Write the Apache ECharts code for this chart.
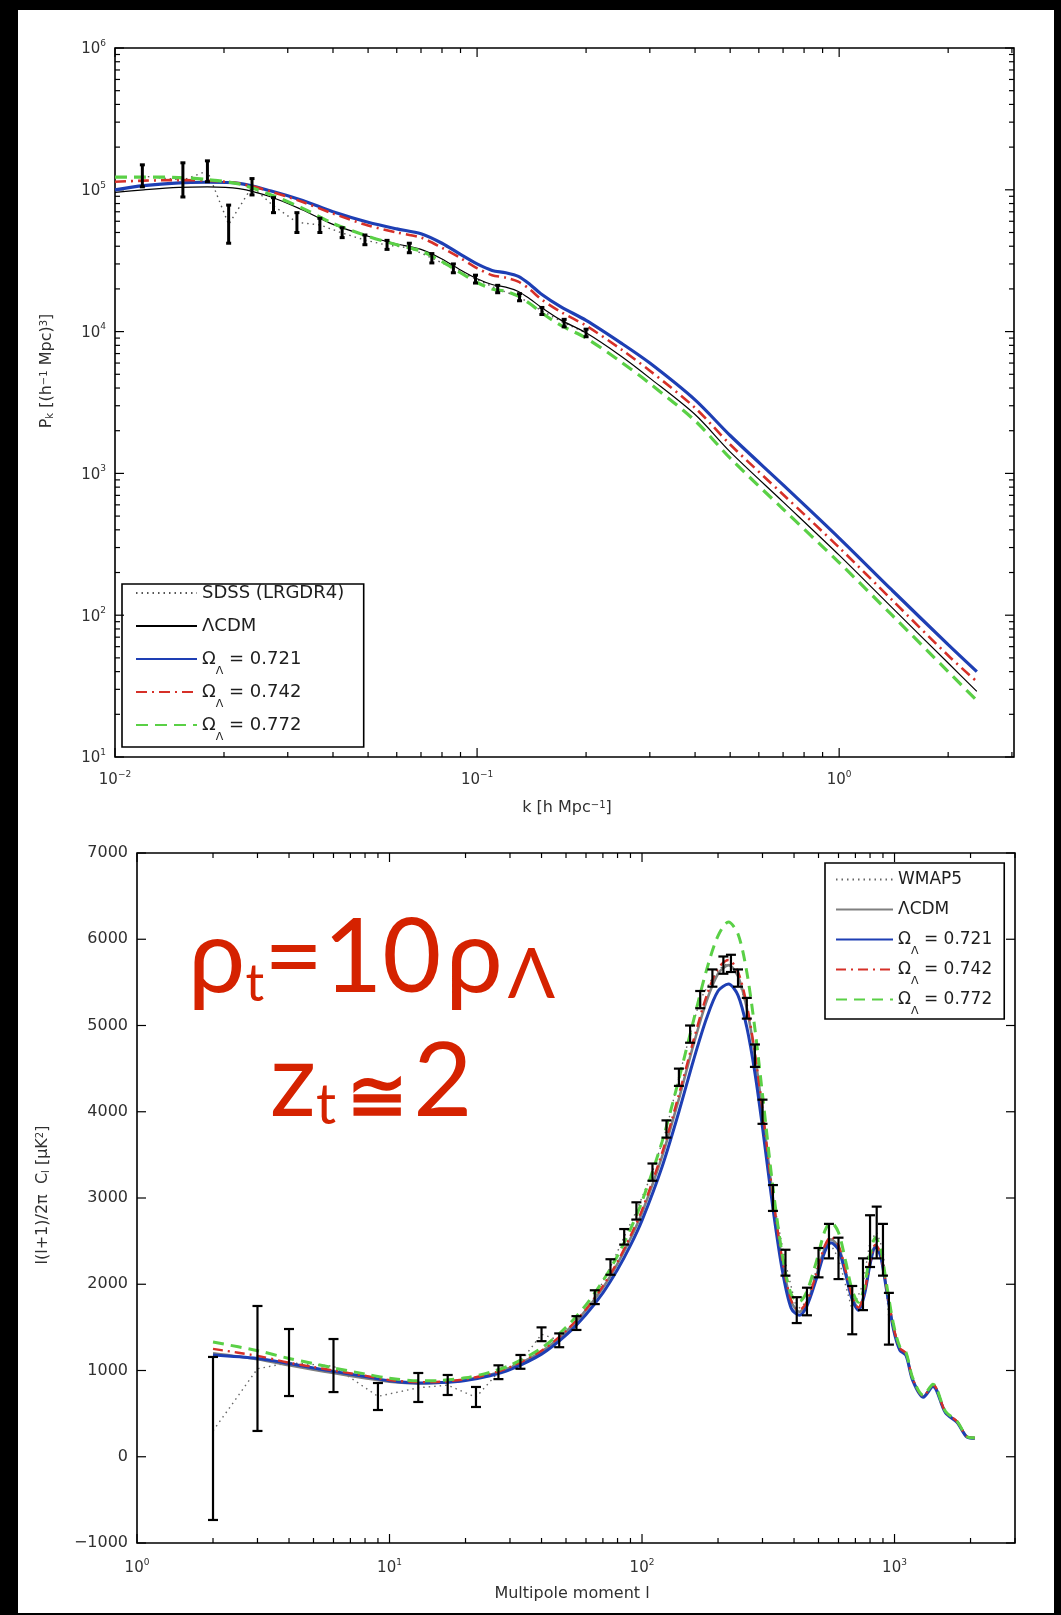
<!DOCTYPE html>
<html><head><meta charset="utf-8">
<script src="https://cdn.jsdelivr.net/npm/echarts@6/dist/echarts.min.js"></script>
<style>html,body{margin:0;padding:0;background:#000;}#c{width:1061px;height:1615px;}</style>
</head><body><div id="c"></div>
<script>
// ---------- top panel: matter power spectrum ----------
const kGrid   = [0.01,0.012,0.015,0.018,0.022,0.027,0.033,0.04,0.05,0.06,0.07,0.08,0.09,0.1,0.11,0.12,0.13,0.14,0.15,0.17,0.2,0.25,0.3,0.4,0.5,0.7,1.0,1.4,2.0,2.4];
const pkLCDM  = [9.6e4,1.0e5,1.04e5,1.05e5,1.02e5,8.9e4,7.2e4,5.7e4,4.7e4,4.15e4,3.8e4,3.25e4,2.72e4,2.36e4,2.15e4,2.06e4,1.92e4,1.7e4,1.49e4,1.21e4,9.8e3,6.7e3,4.7e3,2.6e3,1.42e3,630,265,113,46,29];
const pkO721  = [1.0e5,1.07e5,1.12e5,1.13e5,1.11e5,9.8e4,8.4e4,7.0e4,5.9e4,5.3e4,4.9e4,4.2e4,3.5e4,3.0e4,2.7e4,2.6e4,2.45e4,2.15e4,1.85e4,1.5e4,1.2e4,8.3e3,6.0e3,3.3e3,1.85e3,830,350,150,62,40];
const pkO742  = [1.14e5,1.16e5,1.17e5,1.16e5,1.11e5,9.7e4,8.2e4,6.8e4,5.6e4,5.0e4,4.6e4,3.9e4,3.3e4,2.8e4,2.5e4,2.4e4,2.25e4,1.98e4,1.7e4,1.38e4,1.1e4,7.5e3,5.3e3,2.9e3,1.6e3,710,300,128,52,34];
const pkO772  = [1.23e5,1.23e5,1.22e5,1.18e5,1.1e5,9.2e4,7.4e4,5.8e4,4.7e4,4.1e4,3.7e4,3.12e4,2.6e4,2.22e4,2.0e4,1.92e4,1.78e4,1.57e4,1.37e4,1.11e4,9.0e3,6.1e3,4.3e3,2.35e3,1.28e3,560,235,100,40,25];
const sdssK   = [0.0119,0.0154,0.018,0.0206,0.0239,0.0274,0.0318,0.0368,0.0424,0.049,0.0564,0.065,0.075,0.086,0.099,0.114,0.131,0.151,0.174,0.2];
const sdssP   = [1.25e5,1.17e5,1.36e5,5.7e4,1.05e5,7.7e4,5.9e4,5.65e4,4.96e4,4.42e4,4.07e4,3.9e4,3.3e4,2.8e4,2.35e4,2.0e4,1.75e4,1.4e4,1.15e4,9.8e3];
const sdssLo  = [1.05e5,8.9e4,1.14e5,4.2e4,9.2e4,6.9e4,5.0e4,5.0e4,4.6e4,4.1e4,3.8e4,3.6e4,3.05e4,2.6e4,2.2e4,1.88e4,1.65e4,1.32e4,1.08e4,9.2e3];
const sdssHi  = [1.5e5,1.55e5,1.6e5,7.8e4,1.2e5,8.8e4,6.9e4,6.3e4,5.4e4,4.8e4,4.4e4,4.2e4,3.55e4,3.0e4,2.5e4,2.12e4,1.85e4,1.48e4,1.22e4,1.04e4];
const topXDecades = [-2,-1,0];
const topYDecades = [1,2,3,4,5,6];

// ---------- bottom panel: CMB temperature spectrum ----------
const ellGrid = [2,3,4,5,6,8,10,13,16,20,25,30,40,50,60,70,80,90,100,120,140,160,180,200,220,240,260,280,300,330,360,390,420,450,490,530,560,600,640,680,720,760,800,840,880,930,990,1050,1110,1180,1300,1420,1590,1770,1940,2080];
const clLCDM  = [1200,1130,1060,1010,970,910,870,850,860,890,950,1030,1220,1450,1700,1960,2240,2530,2830,3480,4150,4780,5280,5600,5700,5570,5200,4650,4000,3000,2250,1800,1680,1780,2100,2420,2520,2430,2150,1850,1720,1900,2250,2450,2350,1950,1500,1250,1190,900,700,830,520,405,230,217];
const clO721  = [1180,1140,1080,1030,990,930,880,855,860,885,940,1010,1190,1410,1650,1900,2170,2450,2740,3360,4000,4600,5080,5400,5480,5350,4980,4450,3820,2880,2150,1720,1640,1750,2060,2380,2480,2400,2120,1820,1700,1880,2230,2430,2330,1930,1480,1235,1175,885,690,815,510,398,226,214];
const clO742  = [1250,1170,1090,1040,1000,940,890,865,870,900,960,1040,1230,1460,1710,1980,2260,2560,2860,3520,4200,4830,5340,5660,5760,5620,5240,4680,4020,3020,2270,1810,1700,1800,2120,2450,2550,2450,2160,1860,1730,1910,2260,2460,2360,1960,1510,1260,1200,905,705,835,523,407,231,218];
const clO772  = [1330,1230,1140,1080,1030,960,910,880,885,915,980,1060,1260,1500,1760,2040,2330,2640,2960,3650,4380,5060,5640,6040,6200,6060,5620,4960,4200,3120,2330,1880,1800,1920,2260,2620,2720,2600,2270,1930,1790,1980,2340,2540,2420,2000,1540,1275,1210,915,712,842,528,410,233,219];
const wmapL   = [2,3,4,6,9,13,17,22,27,33,40,47,55,65,75,85,95,110,125,140,155,170,190,210,225,240,260,280,300,330,370,410,450,500,550,600,680,750,800,850,900,950];
const wmapC   = [300,1020,1090,1050,700,800,830,690,980,1100,1420,1350,1550,1850,2200,2550,2850,3300,3800,4400,4900,5300,5550,5700,5720,5550,5200,4650,4000,3000,2250,1700,1800,2250,2500,2300,1700,2000,2500,2600,2400,1600];
const wmapLo  = [-733,299,704,750,542,635,716,577,900,1020,1340,1270,1470,1770,2110,2460,2750,3200,3700,4300,4800,5200,5450,5600,5620,5450,5080,4520,3860,2850,2100,1550,1640,2080,2300,2060,1420,1700,2200,2300,2100,1300];
const wmapHi  = [1157,1748,1481,1365,855,971,948,809,1060,1180,1500,1430,1630,1930,2290,2640,2950,3400,3900,4500,5000,5400,5650,5800,5820,5650,5320,4780,4140,3150,2400,1850,1960,2420,2700,2540,1980,2300,2800,2900,2700,1900];
const botXDecades = [0,1,2,3];
const botYTicks   = [-1000,0,1000,2000,3000,4000,5000,6000,7000];

// ---------- helpers ----------
const FONT = 'DejaVu Sans, Verdana, sans-serif';
const LBL = '#303030';
const C_BLUE = '#1e3fb4', C_RED = '#d63028', C_GREEN = '#5ad046';
const RED_TXT = '#d52200';
const minus = s => String(s).replace('-', '\u2212');

function pairs(xs, ys){ return xs.map((x,i)=>[x, ys[i]]); }
function triples(xs, lo, hi){ return xs.map((x,i)=>[x, lo[i], hi[i]]); }

function decadeTicks(decs, maxV){
  const out = [];
  for (let i = 0; i < decs.length; i++) {
    const base = Math.pow(10, decs[i]);
    out.push([base, 1]);
    for (let m = 2; m <= 9; m++) {
      const v = base * m;
      if (i === decs.length - 1 && v > maxV) break;
      out.push([v, 0]);
    }
  }
  return out;
}

function errBar(capW, lw){
  return function(params, api){
    const x = api.value(0);
    const p1 = api.coord([x, api.value(1)]);
    const p2 = api.coord([x, api.value(2)]);
    const st = {stroke:'#000', lineWidth:lw};
    return {type:'group', children:[
      {type:'line', shape:{x1:p1[0],y1:p1[1],x2:p2[0],y2:p2[1]}, style:st},
      {type:'line', shape:{x1:p1[0]-capW,y1:p1[1],x2:p1[0]+capW,y2:p1[1]}, style:st},
      {type:'line', shape:{x1:p2[0]-capW,y1:p2[1],x2:p2[0]+capW,y2:p2[1]}, style:st}
    ]};
  };
}
function xTickRender(yRef){
  return function(params, api){
    const cs = params.coordSys;
    const px = api.coord([api.value(0), yRef])[0];
    const len = api.value(1) ? 9 : 5;
    const st = {stroke:'#000', lineWidth:1.2};
    return {type:'group', children:[
      {type:'line', shape:{x1:px,y1:cs.y+cs.height,x2:px,y2:cs.y+cs.height-len}, style:st},
      {type:'line', shape:{x1:px,y1:cs.y,x2:px,y2:cs.y+len}, style:st}
    ]};
  };
}
function yTickRender(xRef){
  return function(params, api){
    const cs = params.coordSys;
    const py = api.coord([xRef, api.value(0)])[1];
    const len = api.value(1) ? 9 : 5;
    const st = {stroke:'#000', lineWidth:1.2};
    return {type:'group', children:[
      {type:'line', shape:{x1:cs.x,y1:py,x2:cs.x+len,y2:py}, style:st},
      {type:'line', shape:{x1:cs.x+cs.width,y1:py,x2:cs.x+cs.width-len,y2:py}, style:st}
    ]};
  };
}
function powLabel(v){
  const e = Math.log10(v);
  const r = Math.round(e);
  if (Math.abs(e - r) > 1e-6) return '';
  return '{b|10}{s|' + minus(r) + '}';
}
const richPow = {
  b:{fontFamily:FONT, fontSize:15, color:LBL, lineHeight:18, verticalAlign:'bottom'},
  s:{fontFamily:FONT, fontSize:9, color:LBL, lineHeight:10, verticalAlign:'top'}
};

function legendRich(fs, lh, subPad){
  return {
    t:{fontFamily:FONT, fontSize:fs, color:'#1e1e1e', lineHeight:lh, verticalAlign:'top'},
    u:{fontFamily:FONT, fontSize:Math.round(fs*0.62), color:'#1e1e1e', lineHeight:8, padding:[subPad,0,0,0], verticalAlign:'top'}
  };
}
const topLegendText = {
  t_sdss:'{t|SDSS (LRGDR4)}{u| }', t_lcdm:'{t|\u039bCDM}{u| }',
  t_721:'{t|\u03a9}{u|\u039b}{t| = 0.721}', t_742:'{t|\u03a9}{u|\u039b}{t| = 0.742}', t_772:'{t|\u03a9}{u|\u039b}{t| = 0.772}'
};
const botLegendText = {
  b_wmap:'{t|WMAP5}{u| }', b_lcdm:'{t|\u039bCDM}{u| }',
  b_721:'{t|\u03a9}{u|\u039b}{t| = 0.721}', b_742:'{t|\u03a9}{u|\u039b}{t| = 0.742}', b_772:'{t|\u03a9}{u|\u039b}{t| = 0.772}'
};
const subsup = {
  s:{fontSize:10,fontFamily:FONT,fill:LBL,verticalAlign:'bottom',lineHeight:11},
  p:{fontSize:10,fontFamily:FONT,fill:LBL,verticalAlign:'top',lineHeight:11}
};

const chart = echarts.init(document.getElementById('c'), null, {renderer:'canvas'});

const option = {
  animation:false,
  backgroundColor:'#000',
  grid:[
    {left:115, top:48, width:899, height:709, show:true, borderColor:'#000', borderWidth:1.6, backgroundColor:'#fff', z:1},
    {left:137, top:853, width:878, height:690, show:true, borderColor:'#000', borderWidth:1.6, backgroundColor:'#fff', z:1}
  ],
  xAxis:[
    {type:'log', gridIndex:0, min:0.01, max:3.04, logBase:10, splitLine:{show:false},
     axisLine:{show:false}, axisTick:{show:false},
     axisLabel:{formatter:powLabel, rich:richPow, margin:13}},
    {type:'log', gridIndex:1, min:1, max:3000, logBase:10, splitLine:{show:false},
     axisLine:{show:false}, axisTick:{show:false},
     axisLabel:{formatter:powLabel, rich:richPow, margin:15}}
  ],
  yAxis:[
    {type:'log', gridIndex:0, min:10, max:1e6, logBase:10, splitNumber:5, splitLine:{show:false},
     axisLine:{show:false}, axisTick:{show:false},
     axisLabel:{formatter:powLabel, rich:richPow, margin:9}},
    {type:'value', gridIndex:1, min:-1000, max:7000, interval:1000, splitLine:{show:false},
     axisLine:{show:false}, axisTick:{show:false},
     axisLabel:{formatter:v=>minus(v), fontFamily:FONT, fontSize:16, color:LBL, margin:9}}
  ],
  legend:[
    {left:122, top:584, orient:'vertical', itemWidth:61, itemHeight:14, itemGap:6,
     padding:[0,16,4,13], borderColor:'#000', borderWidth:1.6, backgroundColor:'#fff',
     selectedMode:false, itemStyle:{opacity:0},
     data:['t_sdss','t_lcdm','t_721','t_742','t_772'],
     formatter:n=>topLegendText[n],
     textStyle:{fontFamily:FONT, fontSize:18, color:'#1e1e1e', rich:legendRich(18,18,16)}},
    {left:825, top:863, orient:'vertical', itemWidth:57, itemHeight:14, itemGap:4,
     padding:[8,12,2,10], borderColor:'#000', borderWidth:1.6, backgroundColor:'#fff',
     selectedMode:false, itemStyle:{opacity:0},
     data:['b_wmap','b_lcdm','b_721','b_742','b_772'],
     formatter:n=>botLegendText[n],
     textStyle:{fontFamily:FONT, fontSize:17, color:'#1e1e1e', rich:legendRich(17,17,15)}}
  ],
  graphic:{elements:[
    {type:'rect', left:18, top:10, shape:{width:1036, height:1603}, style:{fill:'#fff'}, z:-100, silent:true},
    {type:'text', x:47, y:371, rotation:Math.PI/2, z:10,
     style:{text:'P{s|k} [(h{p|\u22121} Mpc){p|3}]', font:'16px '+FONT, fill:LBL, align:'center', verticalAlign:'middle', rich:subsup}},
    {type:'text', x:567, y:808, z:10,
     style:{text:'k [h Mpc{p|\u22121}]', font:'16px '+FONT, fill:LBL, align:'center', verticalAlign:'middle', rich:subsup}},
    {type:'text', x:43, y:1195, rotation:Math.PI/2, z:10,
     style:{text:'l(l+1)/2\u03c0  C{s|l} [\u03bcK{p|2}]', font:'16px '+FONT, fill:LBL, align:'center', verticalAlign:'middle', rich:subsup}},
    {type:'text', x:572, y:1594, z:10,
     style:{text:'Multipole moment l', font:'16px '+FONT, fill:LBL, align:'center', verticalAlign:'middle'}},
    {type:'text', left:188, top:908, z:20,
     style:{text:'{a|\u03c1}{b|t}{a|=10}{a2|\u03c1}{c|\u039b}', fill:RED_TXT,
       rich:{a:{fontFamily:'Lato', fontSize:102, fill:RED_TXT, verticalAlign:'bottom', lineHeight:110},
             a2:{fontFamily:'Lato', fontSize:102, fill:RED_TXT, verticalAlign:'bottom', lineHeight:110, padding:[0,0,0,4]},
             b:{fontFamily:'Lato', fontSize:52, fill:RED_TXT, verticalAlign:'bottom', lineHeight:40},
             c:{fontFamily:'Lato', fontSize:70, fill:RED_TXT, verticalAlign:'bottom', lineHeight:44, padding:[0,0,0,5]}}}},
    {type:'text', left:270, top:1032, z:20,
     style:{text:'{a|z}{b|t}{c|\u2245}{a|2}', fill:RED_TXT,
       rich:{a:{fontFamily:'Lato', fontSize:102, fill:RED_TXT, verticalAlign:'bottom', lineHeight:110},
             b:{fontFamily:'Lato', fontSize:56, fill:RED_TXT, verticalAlign:'bottom', lineHeight:36},
             c:{fontFamily:'Lato', fontSize:72, fontWeight:'bold', fill:RED_TXT, verticalAlign:'bottom', lineHeight:64, padding:[0,6,0,11]}}}}
  ]},
  series:[
    // top ticks
    {type:'custom', xAxisIndex:0, yAxisIndex:0, renderItem:xTickRender(10), data:decadeTicks(topXDecades, 3.04), silent:true, z:5},
    {type:'custom', xAxisIndex:0, yAxisIndex:0, renderItem:yTickRender(0.01), data:decadeTicks(topYDecades, 1e6), silent:true, z:5},
    // bottom ticks
    {type:'custom', xAxisIndex:1, yAxisIndex:1, renderItem:xTickRender(0), data:decadeTicks(botXDecades, 3000), silent:true, z:5},
    {type:'custom', xAxisIndex:1, yAxisIndex:1, renderItem:yTickRender(1), data:botYTicks.map(v=>[v,1]), silent:true, z:5},
    // top data
    {name:'t_sdss', type:'line', xAxisIndex:0, yAxisIndex:0, data:pairs(sdssK, sdssP), symbol:'none',
     lineStyle:{color:'#555', width:1.4, type:[1.5,4]}, itemStyle:{color:'#555'}, z:3},
    {type:'custom', xAxisIndex:0, yAxisIndex:0, renderItem:errBar(2.5,3), data:triples(sdssK, sdssLo, sdssHi), encode:{x:0,y:[1,2]}, z:8},
    {name:'t_lcdm', type:'line', xAxisIndex:0, yAxisIndex:0, data:pairs(kGrid, pkLCDM), symbol:'none', smooth:0.3,
     lineStyle:{color:'#000', width:1.2}, itemStyle:{color:'#000'}, z:4},
    {name:'t_721', type:'line', xAxisIndex:0, yAxisIndex:0, data:pairs(kGrid, pkO721), symbol:'none', smooth:0.3,
     lineStyle:{color:C_BLUE, width:3.2}, itemStyle:{color:C_BLUE}, z:5},
    {name:'t_742', type:'line', xAxisIndex:0, yAxisIndex:0, data:pairs(kGrid, pkO742), symbol:'none', smooth:0.3,
     lineStyle:{color:C_RED, width:2.6, type:[11,5,2,5]}, itemStyle:{color:C_RED}, z:6},
    {name:'t_772', type:'line', xAxisIndex:0, yAxisIndex:0, data:pairs(kGrid, pkO772), symbol:'none', smooth:0.3,
     lineStyle:{color:C_GREEN, width:3.2, type:[12,7]}, itemStyle:{color:C_GREEN}, z:7},
    // bottom data
    {name:'b_wmap', type:'line', xAxisIndex:1, yAxisIndex:1, data:pairs(wmapL, wmapC), symbol:'none',
     lineStyle:{color:'#666', width:1.4, type:[1.5,4]}, itemStyle:{color:'#666'}, z:3},
    {name:'b_lcdm', type:'line', xAxisIndex:1, yAxisIndex:1, data:pairs(ellGrid, clLCDM), symbol:'none', smooth:0.3,
     lineStyle:{color:'#808080', width:2.6}, itemStyle:{color:'#808080'}, z:4},
    {name:'b_721', type:'line', xAxisIndex:1, yAxisIndex:1, data:pairs(ellGrid, clO721), symbol:'none', smooth:0.3,
     lineStyle:{color:C_BLUE, width:3}, itemStyle:{color:C_BLUE}, z:5},
    {name:'b_742', type:'line', xAxisIndex:1, yAxisIndex:1, data:pairs(ellGrid, clO742), symbol:'none', smooth:0.3,
     lineStyle:{color:C_RED, width:2.4, type:[10,5,2,5]}, itemStyle:{color:C_RED}, z:6},
    {name:'b_772', type:'line', xAxisIndex:1, yAxisIndex:1, data:pairs(ellGrid, clO772), symbol:'none', smooth:0.3,
     lineStyle:{color:C_GREEN, width:3, type:[11,7]}, itemStyle:{color:C_GREEN}, z:7},
    {type:'custom', xAxisIndex:1, yAxisIndex:1, renderItem:errBar(5,2.2), data:triples(wmapL, wmapLo, wmapHi), encode:{x:0,y:[1,2]}, z:8}
  ]
};
chart.setOption(option);
</script></body></html>
